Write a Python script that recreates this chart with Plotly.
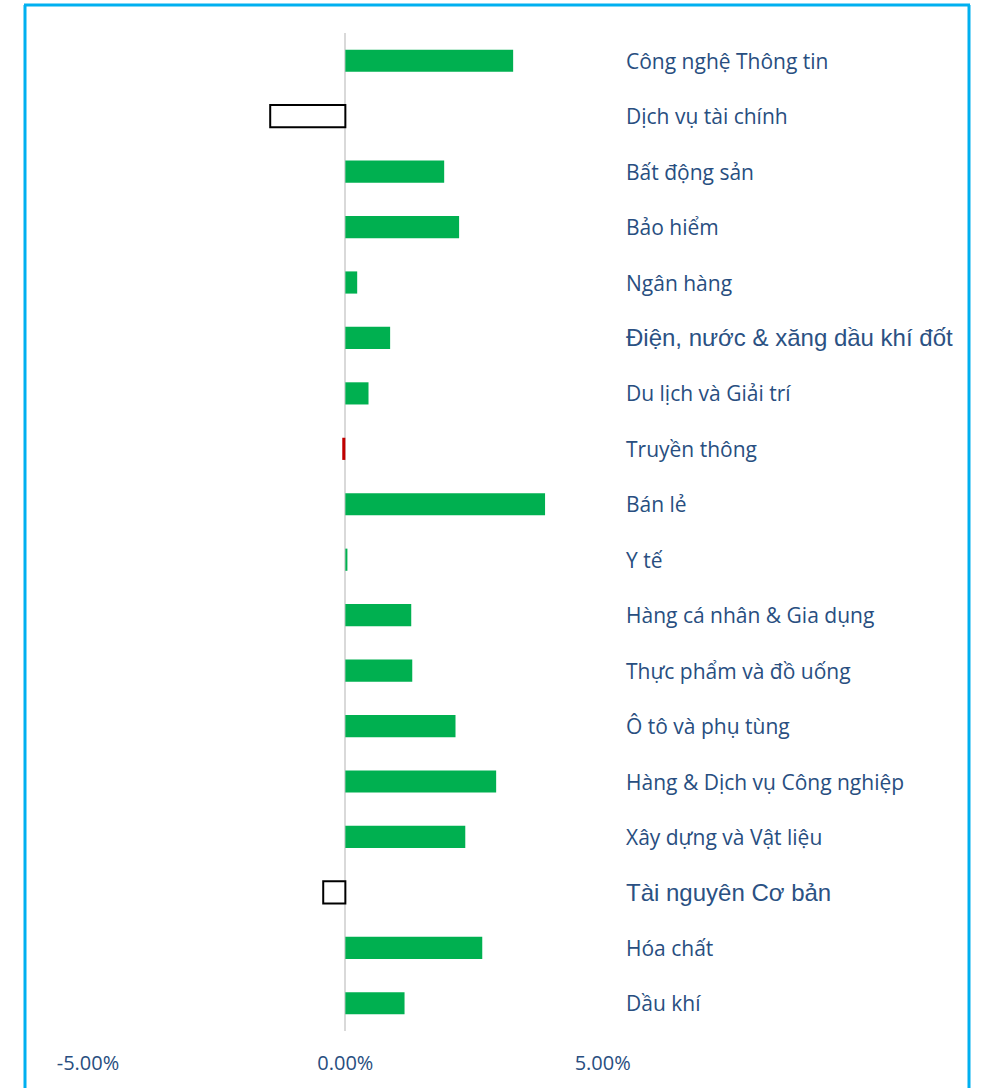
import plotly.graph_objects as go

categories = [
    "Công nghệ Thông tin", "Dịch vụ tài chính", "Bất động sản", "Bảo hiểm",
    "Ngân hàng", "Điện, nước & xăng dầu khí đốt", "Du lịch và Giải trí",
    "Truyền thông", "Bán lẻ", "Y tế", "Hàng cá nhân & Gia dụng",
    "Thực phẩm và đồ uống", "Ô tô và phụ tùng", "Hàng & Dịch vụ Công nghiệp",
    "Xây dựng và Vật liệu", "Tài nguyên Cơ bản", "Hóa chất", "Dầu khí",
]
values = [3.26, -1.46, 1.92, 2.21, 0.23, 0.87, 0.45, -0.06, 3.88, 0.04,
          1.28, 1.30, 2.14, 2.93, 2.33, -0.43, 2.66, 1.15]
tick_vals = [-5, 0, 5]
tick_text = ["-5.00%", "0.00%", "5.00%"]
arial_labels = {"Điện, nước & xăng dầu khí đốt", "Tài nguyên Cơ bản"}

W, H = 986, 1088
L, R, T, B = 88, 23, 33, 57
x_min, x_max = -5.0, 12.0

fill, line_c, line_w = [], [], []
for c, v in zip(categories, values):
    if c == "Truyền thông":
        fill.append("#C00000"); line_c.append("#C00000"); line_w.append(0)
    elif v < 0:
        fill.append("#FFFFFF"); line_c.append("#000000"); line_w.append(2)
    else:
        fill.append("#00B050"); line_c.append("#00B050"); line_w.append(0)

fig = go.Figure(go.Bar(
    x=values, y=categories, orientation="h", width=0.4,
    marker=dict(color=fill, line=dict(color=line_c, width=line_w)),
    hoverinfo="x+y",
))

label_x = 5.41
for c in categories:
    if c in arial_labels:
        font = dict(family="Liberation Sans, Arial", size=24, color="#2B5183")
    else:
        font = dict(family="Open Sans", size=21, color="#284E80")
    fig.add_annotation(x=label_x, y=c, text=c, showarrow=False,
                       xanchor="left", yanchor="middle", font=font)

pw = W - L - R
ph = H - T - B
def px_to_paper_x(px):
    return (px - L) / pw
def px_to_paper_y(py):
    return 1 - (py - T) / ph

border = "#00B0F0"
fig.add_shape(type="line", xref="paper", yref="paper",
              x0=px_to_paper_x(25), x1=px_to_paper_x(25),
              y0=px_to_paper_y(5), y1=px_to_paper_y(1100),
              line=dict(color=border, width=3))
fig.add_shape(type="line", xref="paper", yref="paper",
              x0=px_to_paper_x(969), x1=px_to_paper_x(969),
              y0=px_to_paper_y(5), y1=px_to_paper_y(1100),
              line=dict(color=border, width=3))
fig.add_shape(type="line", xref="paper", yref="paper",
              x0=px_to_paper_x(24), x1=px_to_paper_x(970),
              y0=px_to_paper_y(5), y1=px_to_paper_y(5),
              line=dict(color=border, width=3))

fig.update_layout(
    width=W, height=H,
    margin=dict(l=L, r=R, t=T, b=B, pad=0),
    plot_bgcolor="white", paper_bgcolor="white",
    showlegend=False,
    xaxis=dict(range=[x_min, x_max], tickvals=tick_vals, ticktext=tick_text,
               showgrid=False, zeroline=True, zerolinecolor="#D9D9D9",
               zerolinewidth=2, showline=False,
               ticks="outside", ticklen=14, tickcolor="rgba(0,0,0,0)",
               tickfont=dict(family="Open Sans", size=20, color="#284E80")),
    yaxis=dict(categoryorder="array", categoryarray=categories[::-1],
               range=[-0.5, len(categories) - 0.5],
               showticklabels=False, showgrid=False, zeroline=False,
               showline=False, ticks=""),
)

fig.write_html("out.html", config={"displayModeBar": False},
               post_script="document.body.style.margin='0px';document.body.style.overflow='hidden';")
